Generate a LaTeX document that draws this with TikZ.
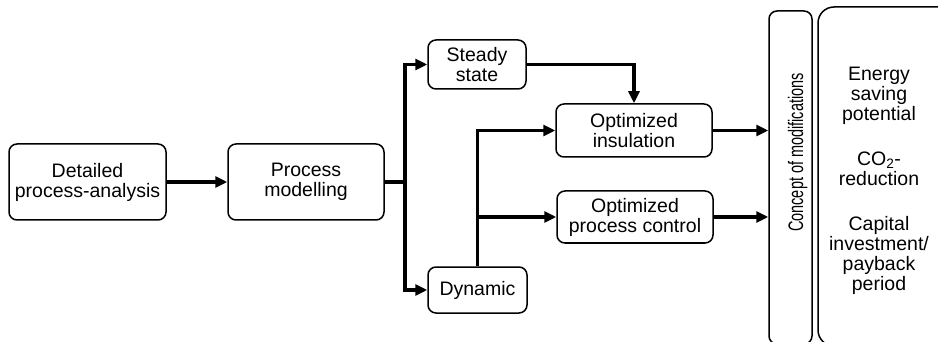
\documentclass[tikz,border=0pt]{standalone}
\usepackage{fontspec}
\setmainfont{Liberation Sans}
\usetikzlibrary{arrows.meta}
\tikzset{
  every picture/.style={font={\fontsize{19.5}{20}\selectfont}, >={Triangle[length=12pt,width=11pt]}},
  every node/.style={inner sep=0pt}}

\begin{document}
\begin{tikzpicture}[x=1pt, y=-1pt,
    procbox/.style={
      draw,
      line width=1.5pt,
      rounded corners=8pt,
      align=center},
    flow/.style={->, line width=3.2pt}]

    \useasboundingbox (0,0) rectangle (938,342);
    \clip (0,0) rectangle (938,342);

    \node[procbox, minimum width=157pt, minimum height=76pt] (analysis) at (87.5,182) {Detailed\\process-analysis};
    \node[procbox, minimum width=156pt, minimum height=76pt] (modelling) at (306,182) {Process\\modelling};
    \node[procbox, minimum width=98pt, minimum height=49pt] (steady) at (477,64.5) {Steady\\state};
    \node[procbox, minimum width=99pt, minimum height=46pt] (dynamic) at (477.5,290) {Dynamic};
    \node[procbox, minimum width=156pt, minimum height=53pt] (insulation) at (634,130.5) {Optimized\\insulation};
    \node[procbox, minimum width=156pt, minimum height=52pt] (control) at (635,217) {Optimized\\process control};

    % tall boxes on the right, cut off by the frame
    \node[procbox, minimum width=43pt, minimum height=333pt] (concept) at (790.5,177.5) {};
    \node[procbox, rounded corners=16pt, minimum width=142pt, minimum height=339pt] (effects) at (889,176.5) {};

    \node[rotate=90, anchor=base, font={\fontsize{21}{22}\selectfont}] (concepttext) at (803,152.5) {\scalebox{0.69}[1]{Concept of modifications}};
    \node[align=center] (effectstext) at (879,181) {Energy\\saving\\potential\\[25pt]CO\textsubscript{2}-\\reduction\\[25pt]Capital\\investment/\\payback\\period};

    \coordinate (fork) at (405,182);

    \draw[flow] (analysis) -- (modelling);
    \draw[flow] (modelling.east) -- (fork) |- (steady.west);
    \draw[flow] (fork) |- (dynamic.west);
    \draw[flow] (steady.east) -| (insulation.north);
    \draw[flow] (dynamic.north) |- (insulation.west);
    \draw[flow] (dynamic.north |- control.west) -- (control.west);
    \draw[flow] (insulation.east) -- (insulation.east -| concept.west);
    \draw[flow] (control.east) -- (control.east -| concept.west);
\end{tikzpicture}
\end{document}
